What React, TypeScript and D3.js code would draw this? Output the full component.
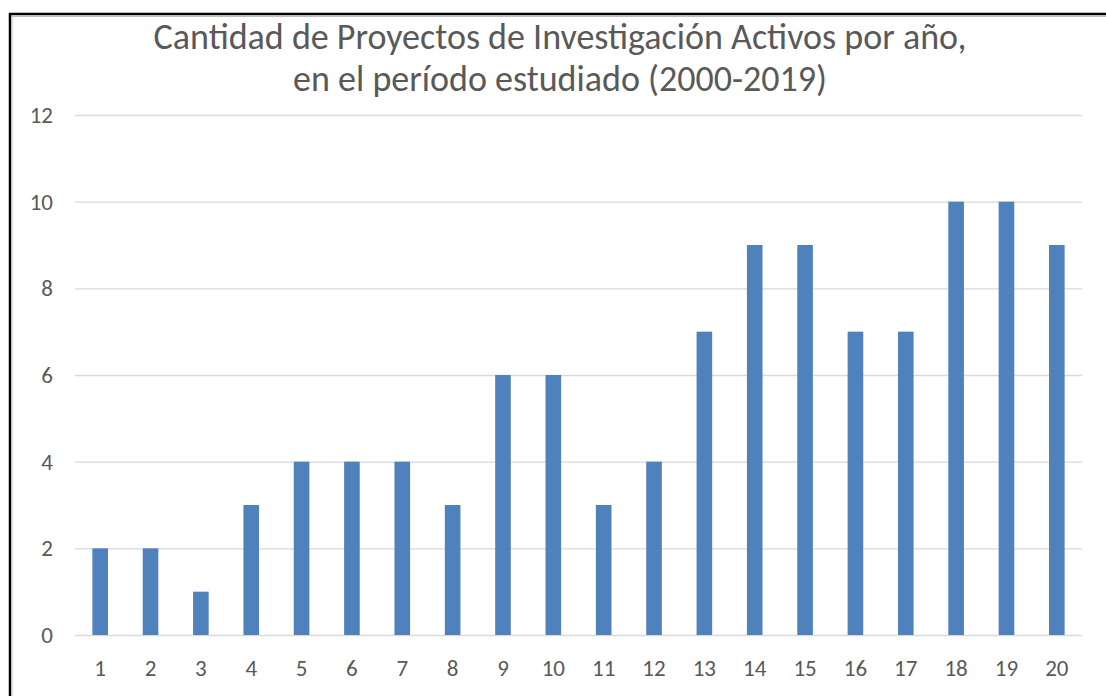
import React, { useEffect, useRef } from 'react';
import * as d3 from 'd3';

// datos
const categories = ['1', '2', '3', '4', '5', '6', '7', '8', '9', '10', '11', '12', '13', '14', '15', '16', '17', '18', '19', '20'];
const proyectos = [2, 2, 1, 3, 4, 4, 4, 3, 6, 6, 3, 4, 7, 9, 9, 7, 7, 10, 10, 9];
const yTicks = [0, 2, 4, 6, 8, 10, 12];
const titleLines = [
  'Cantidad de Proyectos de Investigación Activos por año,',
  'en el período estudiado (2000-2019)',
];

const W = 1106;
const H = 696;
const FONT = "Calibri, Carlito, 'Open Sans', sans-serif";

const App = () => {
  const svgRef = useRef<SVGSVGElement>(null);

  useEffect(() => {
    const svg = d3.select(svgRef.current);
    svg.selectAll('*').remove();

    // marco del área del gráfico
    svg.append('rect').attr('x', 0).attr('y', 0).attr('width', W).attr('height', H).attr('fill', '#fff');
    svg.append('rect')
      .attr('x', 10).attr('y', 14).attr('width', W + 20).attr('height', H + 20)
      .attr('fill', 'none').attr('stroke', '#000').attr('stroke-width', 2.5);
    svg.append('rect')
      .attr('x', 12).attr('y', 16.5).attr('width', W + 20).attr('height', H + 20)
      .attr('fill', 'none').attr('stroke', '#bfbfbf').attr('stroke-width', 1);

    const margin = { left: 75, right: W - 1082, top: 115, bottom: H - 635 };

    const x = d3.scaleBand()
      .domain(categories)
      .range([margin.left, W - margin.right])
      .paddingInner(0.69)
      .paddingOuter(0.345);

    const y = d3.scaleLinear().domain([0, 12]).range([H - margin.bottom, margin.top]);

    // líneas de cuadrícula
    svg.append('g')
      .selectAll('line')
      .data(yTicks)
      .join('line')
      .attr('x1', margin.left)
      .attr('x2', W - margin.right)
      .attr('y1', d => y(d) + 0.5)
      .attr('y2', d => y(d) + 0.5)
      .attr('stroke', '#d9d9d9')
      .attr('stroke-width', 1.3);

    // barras
    svg.append('g')
      .selectAll('rect')
      .data(proyectos)
      .join('rect')
      .attr('x', (d, i) => x(categories[i])!)
      .attr('y', d => y(d))
      .attr('width', x.bandwidth())
      .attr('height', d => y(0) - y(d))
      .attr('fill', '#4f81bd');

    // eje Y
    svg.append('g')
      .selectAll('text')
      .data(yTicks)
      .join('text')
      .attr('x', 53)
      .attr('y', d => y(d) + 8)
      .attr('text-anchor', 'end')
      .style('font-family', FONT)
      .style('font-size', '23px')
      .style('fill', '#595959')
      .text(d => d);

    // eje X
    svg.append('g')
      .selectAll('text')
      .data(categories)
      .join('text')
      .attr('x', d => x(d)! + x.bandwidth() / 2)
      .attr('y', 676)
      .attr('text-anchor', 'middle')
      .style('font-family', FONT)
      .style('font-size', '23px')
      .style('fill', '#595959')
      .text(d => d);

    // título
    svg.append('g')
      .selectAll('text')
      .data(titleLines)
      .join('text')
      .attr('x', 560)
      .attr('y', (d, i) => 49 + i * 42)
      .attr('text-anchor', 'middle')
      .style('font-family', FONT)
      .style('font-size', '36px')
      .style('fill', '#595959')
      .text(d => d);
  }, []);

  return (
    <svg
      ref={svgRef}
      width={W}
      height={H}
      style={{ position: 'absolute', left: 0, top: 0, display: 'block' }}
    />
  );
};

export default App;
